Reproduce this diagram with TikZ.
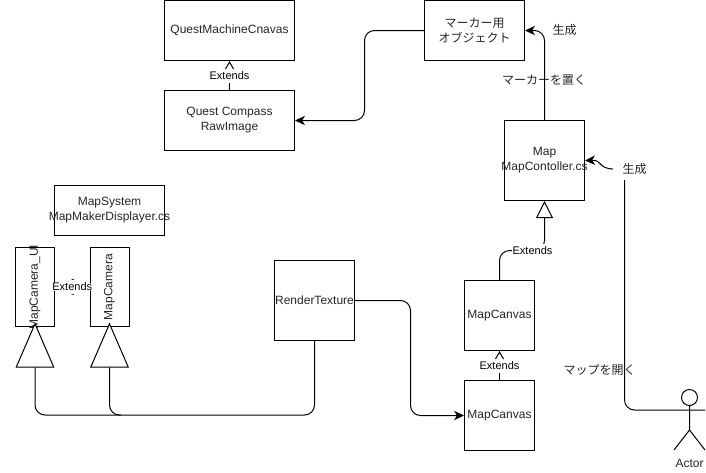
\documentclass[tikz,border=0pt]{standalone}
\usepackage{fontspec}
\setmainfont{Liberation Sans}
\newfontfamily\cjkfont{Noto Sans CJK JP}
\usetikzlibrary{arrows.meta,calc}
\newcommand{\wideline}[1]{\makebox[0pt][c]{#1}}
\tikzset{
  x=0.75pt,y=-0.75pt,
  every node/.style={font=\fontsize{9}{11.25}\selectfont,text=black!85,align=center},
  box/.style={draw=black,line width=0.75pt,fill=white,inner sep=0pt,text=black!85},
  wire/.style={draw=black,line width=0.75pt,rounded corners=7.5pt},
  caret/.style={draw=black,line width=0.75pt},
  solidtip/.style={-{Stealth[length=7.5pt,width=7pt,inset=2.2pt]}},
  widetip/.style={-{Straight Barb[length=13pt,width=11.5pt,line width=0.75pt]}},
  bigtri/.style={-{Triangle[length=33.75pt,width=29pt,fill=white,line width=0.75pt]}},
  smalltri/.style={-{Triangle[length=12.75pt,width=12.75pt,fill=white,line width=0.75pt]}},
  extlabel/.style={fill=white,inner xsep=0.6pt,inner ysep=0pt,minimum height=10.5pt,font=\fontsize{8.25}{10}\selectfont,text=black},
  jp/.style={font=\fontsize{9}{11.25}\selectfont\cjkfont,inner sep=0pt,text=black!85},
}
\begin{document}
\begin{tikzpicture}
\useasboundingbox (0,0) rectangle (706,472);

% boxes
\node[box,minimum width=97.5pt,minimum height=45pt] (qmc) at (229.5,30.5) {QuestMachineCnavas};
\node[box,minimum width=97.5pt,minimum height=45pt] (qcr) at (229.5,120.5) {Quest Compass\\RawImage};
\node[box,minimum width=75pt,minimum height=45pt] (marker) at (474.5,30.5) {\cjkfont マーカー用\\\cjkfont オブジェクト};
\node[box,minimum width=60pt,minimum height=60pt] (map) at (544.5,160.5) {Map\\\wideline{MapContoller.cs}};
\node[box,minimum width=52.5pt,minimum height=52.5pt] (canvasa) at (499.5,315.5) {MapCanvas};
\node[box,minimum width=52.5pt,minimum height=52.5pt] (canvasb) at (499.5,415.5) {MapCanvas};
\node[box,minimum width=60pt,minimum height=60pt] (render) at (314.5,300.5) {\wideline{RenderTexture}};
\node[box,minimum width=82.5pt,minimum height=37.5pt] (mapsys) at (109.5,210.5) {MapSystem\\\wideline{MapMakerDisplayer.cs}};
\node[box,minimum width=29.25pt,minimum height=59.25pt] (camui) at (35,287) {};
\node[box,minimum width=29.25pt,minimum height=59.25pt] (cam) at (109.5,287) {};
\node[rotate=90] (camuitext) at (camui.center) {MapCamera\_UI};
\node[rotate=90] (camtext) at (cam.center) {MapCamera};

% free labels
\node[jp] (genA) at (564.5,30) {生成};
\node[jp,inner xsep=7pt] (genB) at (634.5,169) {生成};
\node[jp] (place) at (544,80) {マーカーを置く};
\node[jp] (open) at (599.5,370) {マップを開く};

% free ends
\coordinate (turnA) at (35,415);
\coordinate (turnB) at (109.5,415);
\coordinate (joinB) at (121,415);
\coordinate (tipA) at (35,322.5);
\coordinate (tipB) at (109.5,322.5);
\coordinate (actorR) at (705,410);
\coordinate (actorTop) at (624.5,180);

% connectors with a label over them
\draw[wire,smalltri] (canvasa.north) -- (499.5,250.5) -- (544.5,250.5) -- (map.south);
\node[extlabel] (e1) at (229.5,75.5) {Extends};
\node[extlabel] (e2) at (499.5,365.5) {Extends};
\node[extlabel] (e4) at (532.5,250.5) {Extends};

% inheritance and flow
\draw[wire] (qcr.north) -- (e1.south);
\draw[caret] ($(qmc.south)+(-4,8)$) -- ($(qmc.south)+(0,1)$) -- ($(qmc.south)+(4,8)$);
\draw[wire] (canvasb.north) -- (e2.south);
\draw[caret] ($(canvasa.south)+(-4,8)$) -- ($(canvasa.south)+(0,1)$) -- ($(canvasa.south)+(4,8)$);
\draw[wire,solidtip] (marker.west) -- (364.5,30.5) -- (364.5,120.5) -- (qcr.east);
\draw[wire,solidtip] (map.north) -- (544.5,30.5) -- (marker.east);
\draw[wire,solidtip] (render.east) -- (410.5,300.5) -- (410.5,415.5) -- (canvasb.west);
\draw[wire,widetip] (cam.west) -- (camui.east) node[midway,extlabel] (e3) {Extends};
\draw[wire,bigtri] (render.south) -- (314.5,415) -- (turnA) -- (tipA);
\draw[wire,bigtri] (joinB) -- (turnB) -- (tipB);
\draw[line width=0.75pt,solidtip] (genB.west) .. controls (597,168) and (603,160) .. (map.east);

% actor
\draw[wire] (actorR) -- (624.5,410) -- (actorTop);
\draw[line width=0.75pt,fill=white] (689.5,397.5) circle[radius=6pt];
\draw[line width=0.75pt] (689.5,405.5) -- (689.5,430) (689.5,430) -- (674,450) (689.5,430) -- (705,450);
\node (actorlabel) at (689.5,463) {Actor};
\end{tikzpicture}
\end{document}
